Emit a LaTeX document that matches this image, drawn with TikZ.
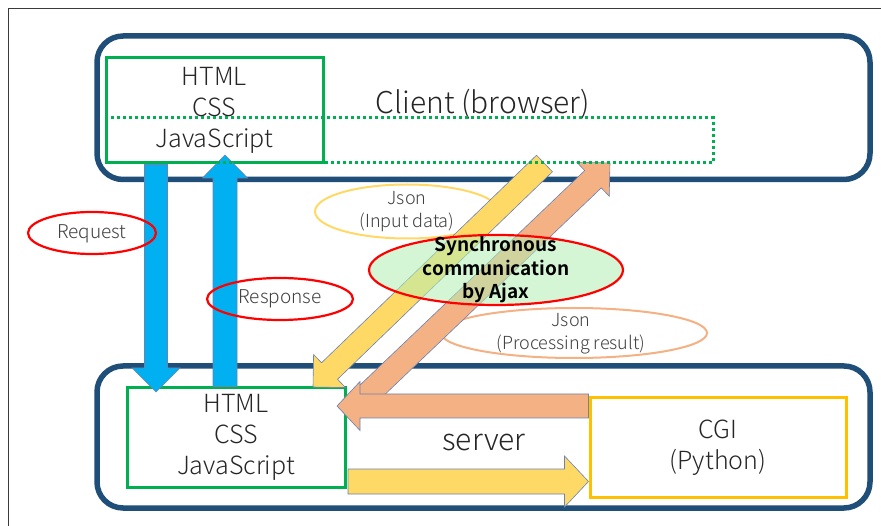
\documentclass[tikz,border=0pt]{standalone}
\usepackage{fontspec}
\setmainfont{Noto Sans CJK JP}[UprightFont=* Light,BoldFont=* Bold]
\usetikzlibrary{calc}
\definecolor{navy}{HTML}{1F4E79}
\definecolor{grn}{HTML}{00B050}
\definecolor{gold}{HTML}{FFC000}
\definecolor{arrblue}{HTML}{00B0F0}
\definecolor{arryel}{HTML}{FFD966}
\definecolor{arrora}{HTML}{F4B183}
\definecolor{arredge}{HTML}{6A82B4}
\definecolor{txt}{HTML}{262626}
\definecolor{txtg}{HTML}{404040}
\definecolor{syncfill}{RGB}{180,240,180}
\definecolor{framec}{HTML}{3A3A3A}
\newcommand\blockarrow[6]{%
  \coordinate (#3-b) at ($(#3)!#6!(#2)$);
  \draw[#1] ($(#2)!#4!90:(#3)$) -- ($(#3-b)!#4!90:(#3)$) -- ($(#3-b)!#5!90:(#3)$) -- (#3)
    -- ($(#3-b)!#5!-90:(#3)$) -- ($(#3-b)!#4!-90:(#3)$) -- ($(#2)!#4!-90:(#3)$) -- cycle;
}
\begin{document}
\begin{tikzpicture}[x=1pt,y=-1pt,
  navybox/.style={draw=navy,line width=5.5pt,rounded corners=26pt},
  gbox/.style={draw=grn,line width=3pt,align=center,text=txt,inner sep=0pt,
    font=\fontsize{25}{31}\selectfont},
  cgibox/.style={draw=gold,line width=3pt,align=center,text=txt,inner sep=0pt,
    font=\fontsize{25}{31}\selectfont},
  bigtext/.style={text=txt,inner sep=0pt,font=\fontsize{30}{36}\selectfont},
  smalltext/.style={text=txtg,inner sep=0pt,align=center,font=\fontsize{18}{23}\selectfont},
  redell/.style={draw=red,line width=2.2pt},
  barrow/.style={fill=arrblue,draw=arredge,line width=0.6pt},
  yarrow/.style={fill=arryel,draw=arredge,line width=0.6pt},
  oarrow/.style={fill=arrora,draw=arredge,line width=0.6pt},
  dotbox/.style={draw=grn,line width=3pt,dash pattern=on 3pt off 3pt}]
\useasboundingbox (0,0) rectangle (881,526);
\fill[white] (0,0) rectangle (881,526);
% frame
\draw[framec,line width=1pt] (8,526) -- (8,9) -- (881,9);
% client and server areas
\draw[navybox] (97,36) rectangle (870,179.5);
\draw[navybox] (97,366) rectangle (870,508);
\node[bigtext] (client) at (483,104) {Client (browser)};
\node[bigtext] (server) at (484,442) {server};
% boxes
\node[gbox,minimum width=217pt,minimum height=105pt] (cbox) at (214.5,110.5) {HTML\\CSS\\JavaScript};
\node[gbox,minimum width=218pt,minimum height=99pt] (sbox) at (236,437.5) {HTML\\CSS\\JavaScript};
\node[cgibox,minimum width=256pt,minimum height=99pt] (cgi) at (718,447.5) {CGI\\(Python)};
% json ellipses (behind arrows)
\node[smalltext] (jin) at (407,211.5) {Json\\(Input data)};
\draw[draw=arryel,line width=2pt] (jin.center) ellipse [x radius=92pt, y radius=27pt];
\node[smalltext] (jout) at (571,334) {Json\\(Processing result)};
\draw[draw=arrora,line width=2pt] (574,333) ellipse [x radius=133pt, y radius=25pt];
% arrow end points
\coordinate (reqT) at (cbox.south -| 156,0);
\coordinate (reqH) at (156,392);
\coordinate (resT) at (sbox.north -| 225,0);
\coordinate (resH) at (225,155);
\coordinate (ydT) at (544.5,163.5);
\coordinate (ydH) at (313,387);
\coordinate (odT) at (346,415);
\coordinate (odH) at (610,163);
\coordinate (ohT) at (cgi.west |- 0,406);
\coordinate (ohH) at (337,406);
\coordinate (yhT) at (348,481.5);
\coordinate (yhH) at (cgi.west |- 0,481.5);
% arrows
\blockarrow{barrow}{reqT}{reqH}{11.5pt}{24pt}{24pt}
\blockarrow{barrow}{resT}{resH}{12pt}{22.5pt}{23pt}
\blockarrow{yarrow}{ydT}{ydH}{11.5pt}{23pt}{23pt}
\blockarrow{oarrow}{odT}{odH}{12pt}{23.5pt}{23.5pt}
\blockarrow{oarrow}{ohT}{ohH}{12pt}{24.5pt}{23pt}
\blockarrow{yarrow}{yhT}{yhH}{12.5pt}{25.5pt}{24pt}
% dotted JavaScript band
\draw[dotbox] (106,118) rectangle (713,163);
% request / response
\node[smalltext,font=\fontsize{19}{23}\selectfont] (req) at (92,234) {Request};
\draw[redell] (92,233) ellipse [x radius=64pt, y radius=21pt];
\node[smalltext,font=\fontsize{19}{23}\selectfont] (res) at (280,299) {Response};
\draw[redell] (280,299) ellipse [x radius=73pt, y radius=21pt];
% synchronous ellipse
\draw[redell,fill=syncfill,fill opacity=0.55,draw opacity=1] (496,270) ellipse [x radius=127pt, y radius=35pt];
\node[inner sep=0pt,align=center,text=black,font=\fontsize{19}{23.5}\selectfont\bfseries] (sync) at (496,270) {Synchronous\\communication\\by Ajax};
\end{tikzpicture}
\end{document}
